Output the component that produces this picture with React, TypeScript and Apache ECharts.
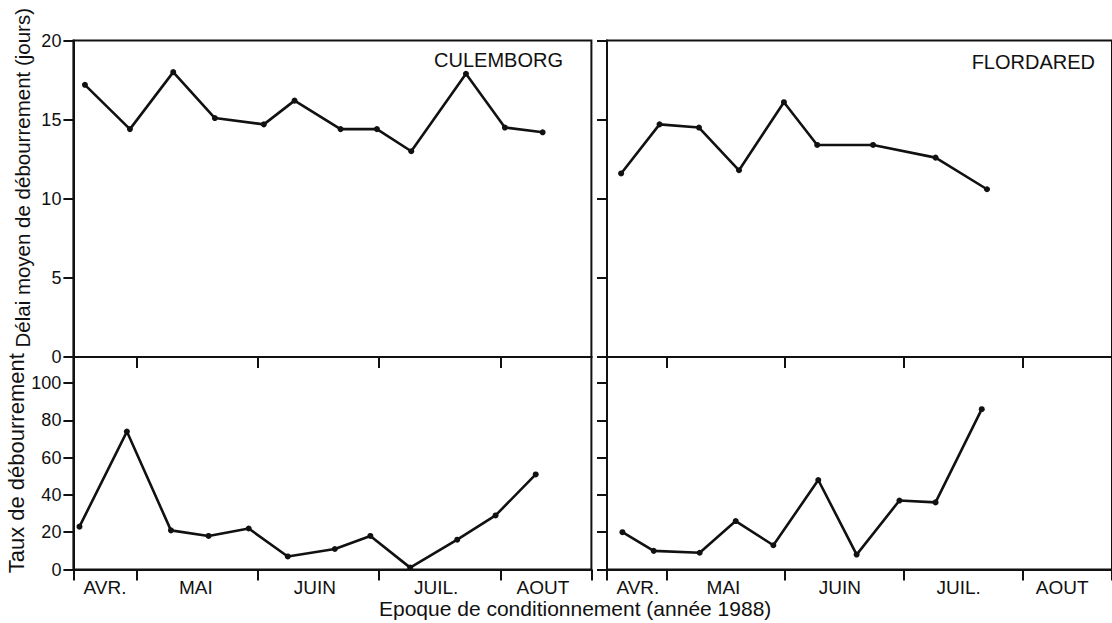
import React, { useEffect, useRef } from 'react';
import * as echarts from 'echarts';

// Month labels (x axis), positions are in "months since 1 April"
const monthLabels = ['AVR.', 'MAI', 'JUIN', 'JUIL.', 'AOUT'];
const monthTicks = [1, 2, 3, 4];
const leftMonthLabelPos = [0.74, 1.49, 2.47, 3.47, 4.35];
const rightMonthLabelPos = [0.76, 1.48, 2.46, 3.46, 4.33];
const delaiTicks = [0, 5, 10, 15, 20];
const tauxTicks = [0, 20, 40, 60, 80, 100];

// CULEMBORG
const culDelaiX = [0.575, 0.946, 1.303, 1.646, 2.05, 2.303, 2.682, 2.982, 3.265, 3.716, 4.037, 4.348];
const culDelaiY = [17.2, 14.4, 18.0, 15.1, 14.7, 16.2, 14.4, 14.4, 13.0, 17.9, 14.5, 14.2];
const culTauxX = [0.53, 0.921, 1.284, 1.594, 1.925, 2.247, 2.635, 2.928, 3.256, 3.644, 3.96, 4.291];
const culTauxY = [23, 74, 21, 18, 22, 7, 11, 18, 1, 16, 29, 51];

// FLORDARED
const florDelaiX = [0.619, 0.942, 1.274, 1.611, 1.989, 2.269, 2.739, 3.265, 3.698];
const florDelaiY = [11.6, 14.7, 14.5, 11.8, 16.1, 13.4, 13.4, 12.6, 10.6];
const florTauxX = [0.63, 0.893, 1.28, 1.583, 1.9, 2.278, 2.601, 2.961, 3.265, 3.654];
const florTauxY = [20, 10, 9, 26, 13, 48, 8, 37, 36, 86];

const FONT = 'Liberation Sans';
const INK = '#111';

const zip = (xs: number[], ys: number[]) => xs.map((x, i) => [x, ys[i]]);

export default function App() {
  const ref = useRef<HTMLDivElement>(null);

  useEffect(() => {
    if (!ref.current) return;
    const chart = echarts.init(ref.current, null, { renderer: 'svg' });

    const leftMin = 0.48;
    const rightMin = 0.5;
    const xMax = 4.75;

    const grids = [
      { left: 73.4, top: 40.5, width: 518, height: 316.5 },
      { left: 73.4, top: 357, width: 518, height: 212.5 },
      { left: 607, top: 40.5, width: 518, height: 316.5 },
      { left: 607, top: 357, width: 518, height: 212.5 },
    ].map((g) => ({ ...g, show: true, borderColor: INK, borderWidth: 2, containLabel: false }));

    const axisLine = { show: true, lineStyle: { color: INK, width: 2 } };

    const makeX = (gridIndex: number, min: number, bottom: boolean, labelPos: number[]) => ({
      type: 'value',
      gridIndex,
      min,
      max: xMax,
      axisLine,
      splitLine: { show: false },
      axisTick: {
        show: true,
        inside: false,
        length: 11,
        lineStyle: { color: INK, width: 2 },
        customValues: bottom ? [min, ...monthTicks, xMax] : monthTicks,
      },
      axisLabel: {
        show: bottom,
        customValues: labelPos,
        margin: 8,
        fontSize: 19,
        fontFamily: FONT,
        color: INK,
        formatter: (v: number) => {
          const i = labelPos.findIndex((p) => Math.abs(p - v) < 1e-6);
          return i >= 0 ? monthLabels[i] : '';
        },
      },
    });

    const makeY = (
      gridIndex: number,
      max: number,
      ticks: number[],
      labels: boolean,
      name?: string,
      pad?: number,
      nameSize?: number
    ) => ({
      type: 'value',
      gridIndex,
      min: 0,
      max,
      axisLine,
      splitLine: { show: false },
      axisTick: {
        show: true,
        inside: false,
        length: 10,
        lineStyle: { color: INK, width: 2 },
        customValues: ticks,
      },
      axisLabel: {
        show: labels,
        customValues: ticks,
        margin: 12,
        fontSize: 18,
        fontFamily: FONT,
        color: INK,
      },
      name: name || '',
      nameLocation: 'middle',
      nameGap: 40,
      nameRotate: 90,
      nameTextStyle: {
        fontSize: nameSize || 21,
        fontFamily: FONT,
        color: INK,
        padding: [0, 0, 0, pad || 0],
      },
    });

    const lineSeries = (xi: number, data: number[][]) => ({
      type: 'line',
      xAxisIndex: xi,
      yAxisIndex: xi,
      data,
      symbol: 'circle',
      symbolSize: 6,
      showSymbol: true,
      lineStyle: { color: INK, width: 2.6 },
      itemStyle: { color: INK },
      silent: true,
    });

    chart.setOption({
      animation: false,
      backgroundColor: '#fff',
      title: [
        {
          text: 'CULEMBORG',
          right: 1112 - 563,
          top: 50,
          padding: 0,
          textStyle: { fontSize: 20, fontWeight: 'normal', color: INK, fontFamily: FONT },
        },
        {
          text: 'FLORDARED',
          right: 1112 - 1095,
          top: 52,
          padding: 0,
          textStyle: { fontSize: 20, fontWeight: 'normal', color: INK, fontFamily: FONT },
        },
        {
          text: 'Epoque de conditionnement (année 1988)',
          left: 379,
          top: 598,
          padding: 0,
          textStyle: { fontSize: 21, fontWeight: 'normal', color: INK, fontFamily: FONT },
        },
      ],
      grid: grids,
      xAxis: [
        makeX(0, leftMin, false, leftMonthLabelPos),
        makeX(1, leftMin, true, leftMonthLabelPos),
        makeX(2, rightMin, false, rightMonthLabelPos),
        makeX(3, rightMin, true, rightMonthLabelPos),
      ],
      yAxis: [
        makeY(0, 20, delaiTicks, true, 'Délai moyen de débourrement (jours)', 42, 20.5),
        makeY(1, 114, tauxTicks, true, 'Taux de débourrement', 0, 22),
        makeY(2, 20, delaiTicks, false),
        makeY(3, 114, tauxTicks, false),
      ],
      series: [
        lineSeries(0, zip(culDelaiX, culDelaiY)),
        lineSeries(1, zip(culTauxX, culTauxY)),
        lineSeries(2, zip(florDelaiX, florDelaiY)),
        lineSeries(3, zip(florTauxX, florTauxY)),
      ],
    });

    return () => chart.dispose();
  }, []);

  return (
    <div
      ref={ref}
      style={{ position: 'absolute', left: 0, top: 0, width: 1112, height: 623, background: '#fff' }}
    />
  );
}
